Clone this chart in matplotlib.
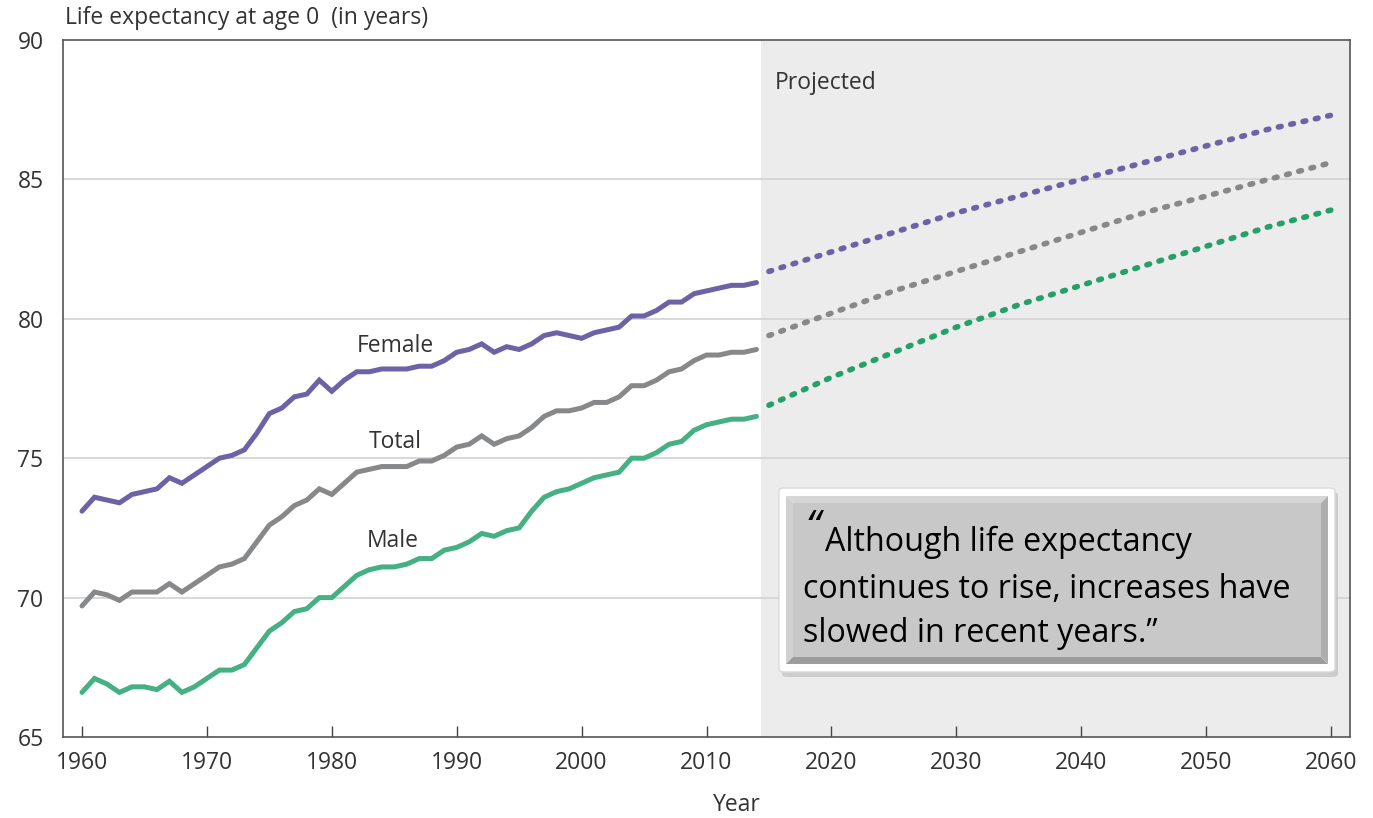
import numpy as np
import matplotlib.pyplot as plt
from matplotlib.patches import FancyBboxPatch, Rectangle, Polygon

# historical values, 1960-2014
years_hist = list(range(1960, 2015))
female_hist = [73.1, 73.6, 73.5, 73.4, 73.7, 73.8, 73.9, 74.3, 74.1, 74.4, 74.7,
               75.0, 75.1, 75.3, 75.9, 76.6, 76.8, 77.2, 77.3, 77.8, 77.4,
               77.8, 78.1, 78.1, 78.2, 78.2, 78.2, 78.3, 78.3, 78.5, 78.8,
               78.9, 79.1, 78.8, 79.0, 78.9, 79.1, 79.4, 79.5, 79.4, 79.3,
               79.5, 79.6, 79.7, 80.1, 80.1, 80.3, 80.6, 80.6, 80.9, 81.0,
               81.1, 81.2, 81.2, 81.3]
total_hist = [69.7, 70.2, 70.1, 69.9, 70.2, 70.2, 70.2, 70.5, 70.2, 70.5, 70.8,
              71.1, 71.2, 71.4, 72.0, 72.6, 72.9, 73.3, 73.5, 73.9, 73.7,
              74.1, 74.5, 74.6, 74.7, 74.7, 74.7, 74.9, 74.9, 75.1, 75.4,
              75.5, 75.8, 75.5, 75.7, 75.8, 76.1, 76.5, 76.7, 76.7, 76.8,
              77.0, 77.0, 77.2, 77.6, 77.6, 77.8, 78.1, 78.2, 78.5, 78.7,
              78.7, 78.8, 78.8, 78.9]
male_hist = [66.6, 67.1, 66.9, 66.6, 66.8, 66.8, 66.7, 67.0, 66.6, 66.8, 67.1,
             67.4, 67.4, 67.6, 68.2, 68.8, 69.1, 69.5, 69.6, 70.0, 70.0,
             70.4, 70.8, 71.0, 71.1, 71.1, 71.2, 71.4, 71.4, 71.7, 71.8,
             72.0, 72.3, 72.2, 72.4, 72.5, 73.1, 73.6, 73.8, 73.9, 74.1,
             74.3, 74.4, 74.5, 75.0, 75.0, 75.2, 75.5, 75.6, 76.0, 76.2,
             76.3, 76.4, 76.4, 76.5]

# projected values
years_proj = [2015, 2020, 2025, 2030, 2035, 2040, 2045, 2050, 2055, 2060]
female_proj = [81.7, 82.4, 83.1, 83.8, 84.4, 85.0, 85.6, 86.2, 86.8, 87.3]
total_proj = [79.4, 80.2, 81.0, 81.7, 82.4, 83.1, 83.8, 84.4, 85.0, 85.6]
male_proj = [76.9, 77.9, 78.8, 79.7, 80.5, 81.2, 81.9, 82.6, 83.3, 83.9]

FONT = 'Open Sans'
FS = 16.5
TXT = '#333333'
W, H = 1373, 818

fig = plt.figure(figsize=(W / 100, H / 100), dpi=100)
ax = fig.add_axes([63 / W, 1 - 737 / H, (1350 - 63) / W, (737 - 40) / H])

ax.set_xlim(1958.48, 2061.52)
ax.set_ylim(65, 90)
ax.axvspan(2014.36, 2061.52, color='#EBECEB', zorder=0, lw=0)
for v in [70, 75, 80, 85]:
    ax.axhline(v, color='#D2D2D2', lw=1.2, zorder=1)

colors = {'Female': '#6C62A5', 'Total': '#87888A', 'Male': '#45B083'}
proj_colors = {'Female': '#6C62A5', 'Total': '#87888A', 'Male': '#25A068'}

for name, hist, proj in [('Female', female_hist, female_proj),
                         ('Total', total_hist, total_proj),
                         ('Male', male_hist, male_proj)]:
    ax.plot(years_hist, hist, color=colors[name], lw=3.6, zorder=3,
            solid_joinstyle='miter', solid_capstyle='round')
    ax.plot(years_proj, proj, color=proj_colors[name], lw=4, zorder=3,
            linestyle=(0, (0.5, 1.77)), dash_capstyle='round')

ax.text(1985.06, 79.02, 'Female', fontsize=FS, color=TXT, family=FONT,
        ha='center', va='center')
ax.text(1985.06, 75.58, 'Total', fontsize=FS, color=TXT, family=FONT,
        ha='center', va='center')
ax.text(1984.9, 72.03, 'Male', fontsize=FS, color=TXT, family=FONT,
        ha='center', va='center')
ax.text(2015.5, 88.46, 'Projected', fontsize=FS, color=TXT, family=FONT,
        ha='left', va='center')

ax.set_xticks(range(1960, 2061, 10))
ax.set_yticks([65, 70, 75, 80, 85, 90])
ax.tick_params(axis='x', direction='in', length=8, width=1, color='#444444',
               labelsize=FS, pad=10, labelcolor=TXT)
ax.tick_params(axis='y', length=0, labelsize=FS, pad=14, labelcolor=TXT)
for lab in ax.get_xticklabels() + ax.get_yticklabels():
    lab.set_family(FONT)
for s in ax.spines.values():
    s.set_color('#555555')
    s.set_linewidth(1.2)

fig.text(65 / W, 1 - 18 / H, 'Life expectancy at age 0  (in years)', fontsize=FS,
         family=FONT, color=TXT, ha='left', va='center')
fig.text(737 / W, 1 - 805 / H, 'Year', fontsize=FS, family=FONT,
         color=TXT, ha='center', va='center')


# quote box, placed in pixels
def px(x, y):
    return x / W, 1 - y / H


fig.add_artist(FancyBboxPatch(px(782, 677), (1338 - 782) / W, (677 - 492) / H,
                              boxstyle='round,pad=0,rounding_size=0.004',
                              transform=fig.transFigure, fc='#B0B0B0',
                              ec='none', alpha=0.5, zorder=4))
fig.add_artist(FancyBboxPatch(px(779, 672), (1335 - 779) / W, (672 - 488) / H,
                              boxstyle='round,pad=0,rounding_size=0.004',
                              transform=fig.transFigure, fc='white',
                              ec='#DADADA', lw=1, zorder=5))

# bevelled grey panel
L, R, T, B, bv = 786, 1328, 496, 664, 7
bevels = [
    ([(L, T), (R, T), (R - bv, T + bv), (L + bv, T + bv)], '#D6D6D6'),
    ([(L, T), (L + bv, T + bv), (L + bv, B - bv), (L, B)], '#D0D0D0'),
    ([(L, B), (L + bv, B - bv), (R - bv, B - bv), (R, B)], '#9C9C9C'),
    ([(R, T), (R, B), (R - bv, B - bv), (R - bv, T + bv)], '#AEAEAE'),
]
for pts, c in bevels:
    fig.add_artist(Polygon([px(x, y) for x, y in pts], closed=True,
                           transform=fig.transFigure, fc=c, ec='none', zorder=6))
fig.add_artist(Rectangle(px(L + bv, B - bv), (R - L - 2 * bv) / W,
                         (B - T - 2 * bv) / H, transform=fig.transFigure,
                         fc='#C8C8C8', ec='none', zorder=6))

QF = 'Open Sans'
QS = 23.2
fig.text(805 / W, 1 - 529 / H, '\u201c', fontsize=30, family=QF, style='italic',
         color='black', ha='left', va='center', zorder=7)
lines = ['Although life expectancy', 'continues to rise, increases have',
         'slowed in recent years.\u201d']
fig.text(825 / W, 1 - 542 / H, lines[0], fontsize=QS, family=QF,
         color='black', ha='left', va='center', zorder=7)
fig.text(803 / W, 1 - 589 / H, lines[1], fontsize=QS, family=QF,
         color='black', ha='left', va='center', zorder=7)
fig.text(803 / W, 1 - 633 / H, lines[2], fontsize=QS, family=QF,
         color='black', ha='left', va='center', zorder=7)

fig.savefig('out.png', dpi=100)
